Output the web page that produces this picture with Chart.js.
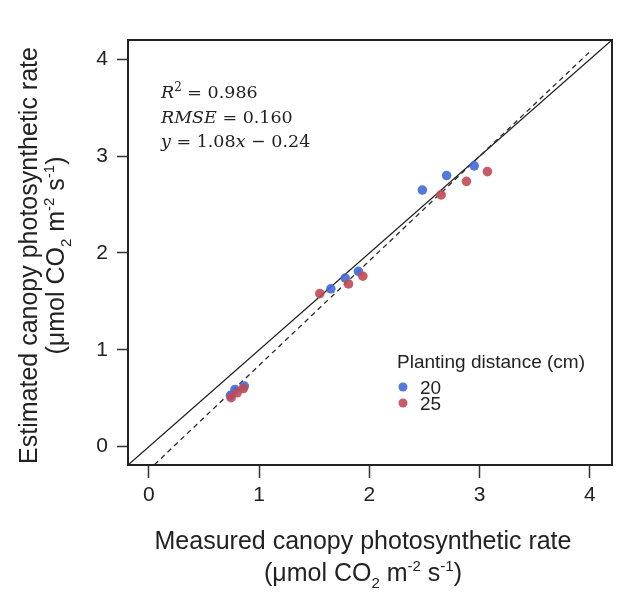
<!DOCTYPE html>
<html>
<head>
<meta charset="utf-8">
<script src="https://cdn.jsdelivr.net/npm/chart.js@4.4.1/dist/chart.umd.min.js"></script>
<style>
  html, body { margin: 0; padding: 0; background: #fff; }
</style>
</head>
<body>
<canvas id="chart" width="635" height="592"></canvas>
<script>
// measured (x) vs estimated (y)
var measured20 = [0.74, 0.78, 0.865, 1.65, 1.78, 1.90, 2.48, 2.70, 2.95];
var estimated20 = [0.53, 0.59, 0.625, 1.63, 1.74, 1.81, 2.65, 2.80, 2.90];
var measured25 = [0.745, 0.80, 0.856, 1.55, 1.81, 1.94, 2.65, 2.88, 3.07];
var estimated25 = [0.505, 0.556, 0.60, 1.58, 1.68, 1.76, 2.60, 2.74, 2.84];
var groupLabels = ["20", "25"];
var tickValues = [0, 1, 2, 3, 4];
var axisMin = -0.19, axisMax = 4.2;
var fitSlope = 1.08, fitIntercept = -0.24, fitFrom = 0.05, fitTo = 4.0;
var statLines = ["0.986", "0.160"];

var SANS = "'Liberation Sans', Arial, sans-serif";
var SERIF = "'DejaVu Serif', serif";
var BLUE = "rgba(66, 106, 214, 0.9)";
var RED = "rgba(192, 74, 86, 0.9)";
var INK = "#222";

function pairs(xs, ys) {
    return xs.map(function (x, i) { return { x: x, y: ys[i] }; });
}

function drawRuns(ctx, runs, x, y, align) {
    var total = 0;
    runs.forEach(function (r) {
        ctx.font = r.font;
        r.w = ctx.measureText(r.t).width;
        total += r.w;
    });
    var cx = align === "center" ? x - total / 2 : x;
    runs.forEach(function (r) {
        ctx.font = r.font;
        ctx.fillText(r.t, cx, y + (r.dy || 0));
        cx += r.w;
    });
}

function unitRuns(size) {
    var big = size + "px " + SANS;
    var small = Math.round(size * 0.6) + "px " + SANS;
    return [
        { t: "(\u03bcmol CO", font: big },
        { t: "2", font: small, dy: size * 0.28 },
        { t: " m", font: big },
        { t: "-2", font: small, dy: -size * 0.4 },
        { t: " s", font: big },
        { t: "-1", font: small, dy: -size * 0.4 },
        { t: ")", font: big }
    ];
}

var overlay = {
    id: "overlay",
    afterDraw: function (chart) {
        var ctx = chart.ctx;
        var a = chart.chartArea;
        ctx.save();
        // frame
        ctx.strokeStyle = INK;
        ctx.lineWidth = 2;
        ctx.strokeRect(a.left, a.top, a.right - a.left, a.bottom - a.top);

        ctx.fillStyle = INK;
        ctx.textBaseline = "alphabetic";
        ctx.textAlign = "left";

        // x title
        var tsize = 25;
        var cx = (a.left + a.right) / 2 - 7;
        drawRuns(ctx, [{ t: "Measured canopy photosynthetic rate", font: tsize + "px " + SANS }], cx, 549, "center");
        drawRuns(ctx, unitRuns(tsize), cx, 581, "center");

        // y title
        var cy = (a.top + a.bottom) / 2 + 3;
        ctx.save();
        ctx.translate(37, cy);
        ctx.rotate(-Math.PI / 2);
        drawRuns(ctx, [{ t: "Estimated canopy photosynthetic rate", font: tsize + "px " + SANS }], 0, 0, "center");
        ctx.restore();
        ctx.save();
        ctx.translate(64, cy);
        ctx.rotate(-Math.PI / 2);
        drawRuns(ctx, unitRuns(tsize), 0, 0, "center");
        ctx.restore();

        // statistics
        var ms = 17.5;
        var it = "italic " + ms + "px " + SERIF;
        var up = ms + "px " + SERIF;
        var sx = a.left + 33;
        drawRuns(ctx, [
            { t: "R", font: it },
            { t: "2", font: Math.round(ms * 0.7) + "px " + SERIF, dy: -ms * 0.42 },
            { t: " = " + statLines[0], font: up }
        ], sx, 98, "left");
        drawRuns(ctx, [
            { t: "RMSE", font: it },
            { t: " = " + statLines[1], font: up }
        ], sx, 123, "left");
        drawRuns(ctx, [
            { t: "y", font: it },
            { t: " = " + fitSlope.toFixed(2), font: up },
            { t: "x", font: it },
            { t: " \u2212 " + Math.abs(fitIntercept).toFixed(2), font: up }
        ], sx, 147, "left");

        // legend
        var lx = 397;
        ctx.font = "19px " + SANS;
        ctx.fillText("Planting distance (cm)", lx, 368);
        var cols = [BLUE, RED];
        groupLabels.forEach(function (lab, i) {
            var yy = 387 + i * 16;
            ctx.fillStyle = cols[i];
            ctx.beginPath();
            ctx.arc(lx + 6, yy, 4.5, 0, Math.PI * 2);
            ctx.fill();
            ctx.fillStyle = INK;
            ctx.font = "19px " + SANS;
            ctx.fillText(lab, lx + 23, yy + 6.5);
        });
        ctx.restore();
    }
};

function axisCfg(isX) {
    return {
        type: "linear",
        min: axisMin,
        max: axisMax,
        afterBuildTicks: function (s) {
            s.ticks = tickValues.map(function (v) { return { value: v }; });
        },
        afterFit: function (s) {
            if (isX) s.height = 40; else s.width = 45;
        },
        ticks: {
            color: INK,
            font: { family: SANS, size: 21 },
            padding: isX ? 5 : 9,
            callback: function (v) { return String(v); }
        },
        grid: {
            drawOnChartArea: false,
            drawTicks: true,
            tickLength: isX ? 13 : 11,
            color: "#333",
            tickWidth: 1.5
        },
        border: { display: true, color: INK, width: 2 }
    };
}

new Chart(document.getElementById("chart"), {
    type: "scatter",
    data: {
        datasets: [
            {
                label: groupLabels[0],
                data: pairs(measured20, estimated20),
                backgroundColor: BLUE,
                borderWidth: 0,
                pointRadius: 4.8,
                order: 2
            },
            {
                label: groupLabels[1],
                data: pairs(measured25, estimated25),
                backgroundColor: RED,
                borderWidth: 0,
                pointRadius: 4.8,
                order: 1
            },
            {
                type: "line",
                label: "1:1",
                data: [{ x: axisMin, y: axisMin }, { x: axisMax, y: axisMax }],
                borderColor: "#1a1a1a",
                borderWidth: 1.3,
                pointRadius: 0,
                fill: false,
                order: 4
            },
            {
                type: "line",
                label: "fit",
                data: [fitFrom, fitTo].map(function (x) { return { x: x, y: fitSlope * x + fitIntercept }; }),
                borderColor: "#2a2a2a",
                borderWidth: 1.3,
                borderDash: [5, 4],
                pointRadius: 0,
                fill: false,
                order: 3
            }
        ]
    },
    options: {
        responsive: false,
        animation: false,
        layout: { padding: { left: 83, right: 23, top: 40, bottom: 87 } },
        scales: { x: axisCfg(true), y: axisCfg(false) },
        plugins: {
            legend: { display: false },
            tooltip: { enabled: false }
        }
    },
    plugins: [overlay]
});
</script>
</body>
</html>
